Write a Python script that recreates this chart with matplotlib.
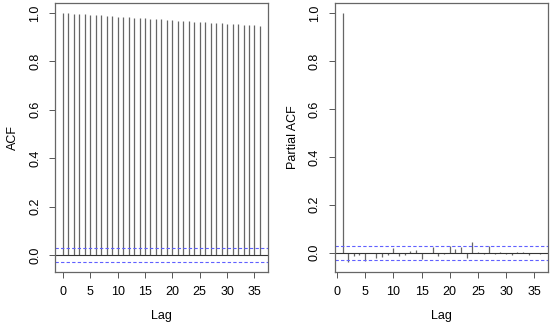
import numpy as np
import matplotlib
matplotlib.use("Agg")
import matplotlib.pyplot as plt

plt.rcParams['font.family'] = ['Liberation Sans', 'DejaVu Sans']
plt.rcParams['font.size'] = 9

# ACF, lags 0..36
acf_lags = list(range(0, 37))
acf_vals = [1.000, 0.999, 0.997, 0.996, 0.995, 0.993, 0.992, 0.990, 0.988, 0.986,
            0.985, 0.984, 0.982, 0.980, 0.979, 0.977, 0.976, 0.975, 0.973, 0.971,
            0.970, 0.968, 0.967, 0.966, 0.964, 0.963, 0.962, 0.960, 0.959, 0.958,
            0.956, 0.955, 0.954, 0.952, 0.951, 0.950, 0.948]

# PACF, lags 1..36
pacf_lags = list(range(1, 37))
pacf_vals = [1.000, -0.039, -0.014, -0.010, -0.035, -0.003, -0.021, -0.018, -0.010, 0.021,
             -0.014, -0.011, 0.006, 0.010, -0.028, -0.003, 0.022, -0.015, -0.004, 0.028,
             0.015, 0.026, -0.022, 0.046, 0.004, -0.007, 0.030, -0.004, 0.004, -0.007,
             -0.008, 0.002, 0.004, -0.010, -0.002, -0.006]

ci = 0.029
yticks = [0.0, 0.2, 0.4, 0.6, 0.8, 1.0]
xticks = [0, 5, 10, 15, 20, 25, 30, 35]

fig = plt.figure(figsize=(5.5, 3.29), dpi=100)
ax1 = fig.add_axes([0.100, 0.173, 0.387, 0.818])
ax2 = fig.add_axes([0.6085, 0.173, 0.3875, 0.818])


def r_style(ax, lags, vals, ylab):
    ax.vlines(lags, 0, vals, color='#666666', lw=0.9)
    ax.axhline(0, color='#333333', lw=0.8)
    ax.axhline(ci, color='#6060ff', lw=0.8, ls=(0, (3, 2)))
    ax.axhline(-ci, color='#6060ff', lw=0.8, ls=(0, (3, 2)))
    lo = min(min(vals), -ci)
    hi = max(vals)
    pad = (hi - lo) * 0.04
    ax.set_ylim(lo - pad, hi + pad)
    xpad = (lags[-1] - lags[0]) * 0.04
    ax.set_xlim(lags[0] - xpad, lags[-1] + xpad)
    ax.set_xticks(xticks)
    ax.set_yticks(yticks)
    ax.set_yticklabels(['%.1f' % t for t in yticks], rotation=90, va='center')
    ax.tick_params(direction='out', length=4, width=0.7, color='#555555', pad=6)
    for s in ax.spines.values():
        s.set_color('#666666')
        s.set_linewidth(0.9)
    ax.set_xlabel('Lag', labelpad=9)
    ax.set_ylabel(ylab, labelpad=7)


r_style(ax1, acf_lags, acf_vals, 'ACF')
r_style(ax2, pacf_lags, pacf_vals, 'Partial ACF')

fig.savefig('out.png', dpi=100)
